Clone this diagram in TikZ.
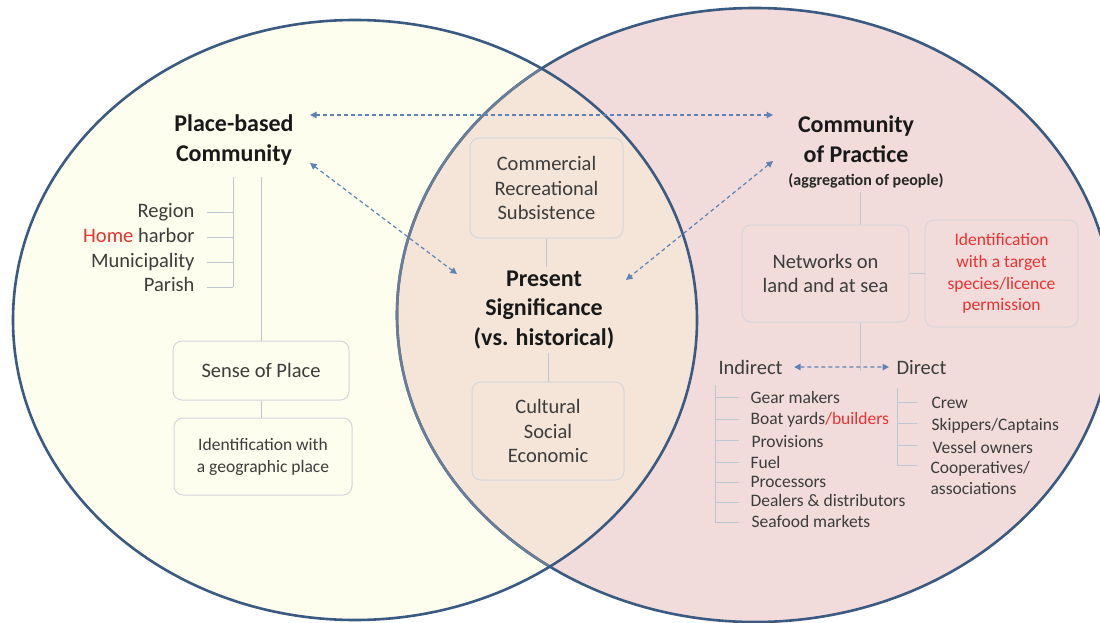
\documentclass[tikz,border=0pt]{standalone}
\usepackage{fontspec}
\setmainfont{Carlito}
\usetikzlibrary{arrows.meta}
\definecolor{cream}{RGB}{254,254,238}
\definecolor{pinkc}{RGB}{242,220,219}
\definecolor{lensc}{RGB}{245,229,216}
\definecolor{rim}{RGB}{58,90,130}
\definecolor{rimfaint}{RGB}{105,125,150}
\definecolor{conn}{RGB}{190,198,210}
\definecolor{boxline}{RGB}{212,214,220}
\definecolor{txt}{RGB}{60,60,60}
\definecolor{redt}{RGB}{232,50,50}
\definecolor{arr}{RGB}{95,130,182}
\tikzset{
  head/.style={font=\bfseries\fontsize{24}{29.5}\selectfont, align=center, text=black!90},
  txtn/.style={font=\fontsize{20.5}{24.5}\selectfont, text=txt, align=center},
  smalltxt/.style={font=\fontsize{17.5}{22}\selectfont, text=txt, align=center},
  rbox/.style={draw=boxline, line width=1pt, rounded corners=9pt, inner sep=0pt},
  link/.style={draw=conn, line width=1pt},
  darr/.style={draw=arr, line width=1.2pt, dash pattern=on 4pt off 3pt,
    {Triangle[width=6.5pt,length=6.5pt]}-{Triangle[width=6.5pt,length=6.5pt]}},
  rimline/.style={line width=2.6pt}
}
\begin{document}
\begin{tikzpicture}[x=1pt,y=-1pt]
\useasboundingbox (0,0) rectangle (1100,623);
\fill[white] (0,0) rectangle (1100,623);
% circles
\fill[pinkc] (755,315) ellipse [x radius=358pt, y radius=307pt];
\fill[cream] (355,320) ellipse [x radius=342pt, y radius=300pt];
\begin{scope}
  \clip (755,315) ellipse [x radius=358pt, y radius=307pt];
  \fill[lensc] (355,320) ellipse [x radius=342pt, y radius=300pt];
\end{scope}
\draw[rim, rimline] (755,315) ellipse [x radius=358pt, y radius=307pt];
\begin{scope}
  \clip (355,320) ellipse [x radius=342pt, y radius=300pt];
  \draw[rimfaint, rimline] (755,315) ellipse [x radius=358pt, y radius=307pt];
\end{scope}
\draw[rim, rimline] (355,320) ellipse [x radius=342pt, y radius=300pt];

% headings
\node[head] (pbc) at (234,140) {Place-based\\Community};
\node[head] (cop) at (856,139) {Community\\of Practice};
\node[font=\bfseries\fontsize{16}{19}\selectfont, text=black!85] (agg) at (866,181) {(aggregation of people)};
\node[head] (ps) at (544,310) {Present\\Significance\\(vs. historical)};

% boxes
\node[rbox, txtn, minimum width=153pt, minimum height=100pt] (crs) at (546.5,188) {Commercial\\Recreational\\Subsistence};
\node[rbox, txtn, minimum width=152pt, minimum height=98pt] (cse) at (548,431) {Cultural\\Social\\Economic};
\node[rbox, txtn, minimum width=176pt, minimum height=59pt] (sop) at (261,370.5) {Sense of Place};
\node[rbox, smalltxt, minimum width=178pt, minimum height=77pt] (igp) at (263,456.5) {Identification with\\a geographic place};
\node[rbox, txtn, minimum width=167pt, minimum height=97pt] (net) at (825.5,273.5) {Networks on\\land and at sea};
\node[rbox, smalltxt, text=redt, minimum width=153pt, minimum height=107pt, font=\fontsize{17.5}{21.7}\selectfont] (tsp) at (1001.5,273.5) {Identification\\with a target\\species/licence\\permission};

% center links
\draw[link] (crs.south) -- (crs.south |- ps.north);
\draw[link] (cse.north) -- (cse.north |- ps.south);

% left tree
\node[txtn, anchor=base east] (reg) at (198,217) {Region};
\node[txtn, anchor=base east] (hom) at (198,242) {\textcolor{redt}{Home} harbor};
\node[txtn, anchor=base east] (mun) at (198,267) {Municipality};
\node[txtn, anchor=base east] (par) at (198,291) {Parish};
\coordinate (lsTop) at (233,177);
\coordinate (lsBot) at (233,287);
\draw[link] (lsTop) -- (lsBot);
\foreach \yy in {212,237,262,287} \draw[link] (207,\yy) -- (233,\yy);
\draw[link] (sop.north |- lsTop) -- (sop.north);
\draw[link] (sop.south) -- (sop.south |- igp.north);

% right tree
\coordinate (cpX) at (860,0);
\draw[link] (agg.south -| cpX) -- (net.north -| cpX);
\draw[link] (net.east) -- (tsp.west);
\node[txtn, anchor=base west] (ind) at (715,374) {Indirect};
\node[txtn, anchor=base west] (dir) at (893,374) {Direct};
\coordinate (split) at (860,371);
\draw[link] (net.south -| cpX) -- (split);
\draw[darr] ([xshift=8pt]ind.east) -- ([xshift=-4pt]dir.west);

\draw[link] (715,385) -- (715,522);
\foreach \yy in {397,419,440,462,482,502,522} \draw[link] (715,\yy) -- (739,\yy);
\node[smalltxt, anchor=base west] (i1) at (747,403) {Gear makers};
\node[smalltxt, anchor=base west] (i2) at (747,424) {Boat yards\textcolor{redt}{/builders}};
\node[smalltxt, anchor=base west] (i3) at (748,447) {Provisions};
\node[smalltxt, anchor=base west] (i4) at (747,468) {Fuel};
\node[smalltxt, anchor=base west] (i5) at (747,487) {Processors};
\node[smalltxt, anchor=base west] (i6) at (747,506) {Dealers \& distributors};
\node[smalltxt, anchor=base west] (i7) at (748,527) {Seafood markets};

\draw[link] (897,388) -- (897,465);
\foreach \yy in {402,423,445,465} \draw[link] (897,\yy) -- (917,\yy);
\node[smalltxt, anchor=base west] (d1) at (928,408) {Crew};
\node[smalltxt, anchor=base west] (d2) at (928,430) {Skippers/Captains};
\node[smalltxt, anchor=base west] (d3) at (929,453) {Vessel owners};
\node[smalltxt, anchor=base west] (d4) at (927,473) {Cooperatives/};
\node[smalltxt, anchor=base west] (d5) at (927,494) {associations};

% dashed arrows
\coordinate (a1s) at (310,115);
\coordinate (a1e) at (773,115);
\coordinate (a2s) at (310,163);
\coordinate (a2e) at (457,274);
\coordinate (a3s) at (773,161);
\coordinate (a3e) at (626,280);
\draw[darr] (a1s) -- (a1e);
\draw[darr] (a2s) -- (a2e);
\draw[darr] (a3s) -- (a3e);
\end{tikzpicture}
\end{document}
